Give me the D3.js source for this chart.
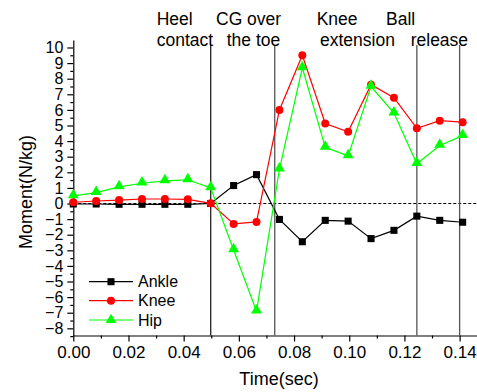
<!DOCTYPE html>
<html>
<head>
<meta charset="utf-8">
<script src="https://cdn.jsdelivr.net/npm/d3@7"></script>
<style>
  body { margin: 0; background: #fff; }
  svg { display: block; font-family: "Liberation Sans", Arial, sans-serif; }
</style>
</head>
<body>
<svg id="chart" width="477" height="392"></svg>
<script>
// sample times (sec)
const time = [0, 0.0083, 0.0166, 0.0249, 0.0332, 0.0415, 0.0498, 0.0581, 0.0664,
  0.0747, 0.083, 0.0913, 0.0996, 0.1079, 0.1162, 0.1245, 0.1328, 0.1411];

// joint moments (N/kg)
const ankle = [-0.03, -0.03, -0.05, -0.05, -0.05, -0.05, 0, 1.15, 1.85,
  -1.02, -2.45, -1.08, -1.13, -2.25, -1.72, -0.81, -1.08, -1.2];
const knee = [0.08, 0.16, 0.22, 0.29, 0.29, 0.27, 0.01, -1.31, -1.18,
  6.0, 9.5, 5.13, 4.6, 7.62, 6.78, 4.82, 5.31, 5.21];
const hip = [0.49, 0.7, 1.07, 1.3, 1.45, 1.52, 1.0, -2.98, -6.9,
  2.2, 8.7, 3.6, 3.05, 7.5, 5.8, 2.55, 3.72, 4.35];

// phase events
const eventTimes = [0.0498, 0.073, 0.1245, 0.14];
const eventLabels = [["Heel", "contact"], ["CG over", "the toe"], ["Knee", "extension"], ["Ball", "release"]];

const seriesNames = ["Ankle", "Knee", "Hip"];
const seriesColors = ["#000000", "#ff0000", "#00ff00"];
const seriesValues = [ankle, knee, hip];

const yTicks = d3.range(-8, 11);
const xTicks = [0, 0.02, 0.04, 0.06, 0.08, 0.1, 0.12, 0.14];

const svg = d3.select("#chart");

const x = d3.scaleLinear().domain([0, 0.1463]).range([73.3, 477]);
const y = d3.scaleLinear().domain([-8.46, 10.48]).range([335.5, 40]);

// minor ticks
svg.append("g")
  .attr("transform", `translate(0,${y.range()[0]})`)
  .call(d3.axisBottom(x).tickValues(d3.range(0.01, 0.146, 0.02)).tickSize(3).tickFormat(""))
  .call((g) => g.select(".domain").remove());
svg.append("g")
  .attr("transform", `translate(${x.range()[0]},0)`)
  .call(d3.axisLeft(y).tickValues(d3.range(-8.5, 10.5, 1)).tickSize(3).tickFormat(""))
  .call((g) => g.select(".domain").remove());

// x axis
const xAxisG = svg.append("g")
  .attr("transform", `translate(0,${y.range()[0]})`)
  .call(d3.axisBottom(x).tickValues(xTicks).tickSize(6).tickSizeOuter(0).tickFormat(d3.format(".2f")));
xAxisG.selectAll("text").attr("font-size", 17).attr("font-family", null).attr("dy", "0.71em").attr("y", 10);

// y axis
const yAxisG = svg.append("g")
  .attr("transform", `translate(${x.range()[0]},0)`)
  .call(d3.axisLeft(y).tickValues(yTicks).tickSize(6).tickSizeOuter(0).tickFormat(d3.format("d")));
yAxisG.selectAll("text").attr("font-size", 16).attr("font-family", null).attr("x", -10);

svg.selectAll(".domain, .tick line").attr("stroke", "#000").attr("stroke-width", 1.2);

// axis titles
svg.append("text")
  .attr("x", 279).attr("y", 385)
  .attr("text-anchor", "middle").attr("font-size", 18)
  .text("Time(sec)");
svg.append("text")
  .attr("transform", "translate(32,192) rotate(-90)")
  .attr("text-anchor", "middle").attr("font-size", 18)
  .text("Moment(N/kg)");

// zero line
svg.append("line")
  .attr("x1", x.range()[0]).attr("x2", x.range()[1])
  .attr("y1", y(0)).attr("y2", y(0))
  .attr("stroke", "#000").attr("stroke-dasharray", "3,2");

// phase lines and labels
const ev = svg.selectAll(".event").data(eventTimes).join("g").attr("class", "event");
ev.append("line")
  .attr("x1", (d) => x(d)).attr("x2", (d) => x(d))
  .attr("y1", 45).attr("y2", y.range()[0])
  .attr("stroke", (d, i) => (i === 0 ? "#222" : "#555"))
  .attr("stroke-width", 1.3);

const labelX = [[156.7, 156.7], [216, 226.7], [316.7, 320], [386, 410.7]];
eventLabels.forEach((lines, i) => {
  lines.forEach((t, j) => {
    svg.append("text")
      .attr("x", labelX[i][j]).attr("y", 25 + j * 21)
      .attr("font-size", 17.5)
      .text(t);
  });
});

// series lines and markers
const line = d3.line().x((d) => x(d[0])).y((d) => y(d[1]));

seriesValues.forEach((vals, s) => {
  const pts = vals.map((v, i) => [time[i], v]);
  svg.append("path")
    .datum(pts)
    .attr("fill", "none")
    .attr("stroke", seriesColors[s])
    .attr("stroke-width", 1.2)
    .attr("d", line);
  drawMarkers(svg, pts, s);
});

function drawMarkers(sel, pts, s) {
  const sym = [d3.symbolSquare, d3.symbolCircle, d3.symbolTriangle][s];
  const size = [50, 50, 52][s];
  sel.selectAll(".m" + s)
    .data(pts)
    .join("path")
    .attr("class", "m" + s)
    .attr("transform", (d) => `translate(${x(d[0])},${y(d[1]) + (s === 2 ? -0.8 : 0)})`)
    .attr("d", d3.symbol(sym, size))
    .attr("fill", seriesColors[s]);
}

// legend
const legendY = [281.7, 300.7, 320];
seriesNames.forEach((name, s) => {
  const g = svg.append("g");
  g.append("line")
    .attr("x1", 89).attr("x2", 133)
    .attr("y1", legendY[s]).attr("y2", legendY[s])
    .attr("stroke", seriesColors[s]).attr("stroke-width", 1.2);
  const sym = [d3.symbolSquare, d3.symbolCircle, d3.symbolTriangle][s];
  g.append("path")
    .attr("transform", `translate(111,${legendY[s]})`)
    .attr("d", d3.symbol(sym, 50))
    .attr("fill", seriesColors[s]);
  g.append("text")
    .attr("x", 138).attr("y", legendY[s])
    .attr("dy", "0.36em")
    .attr("font-size", 16)
    .text(name);
});
</script>
</body>
</html>
